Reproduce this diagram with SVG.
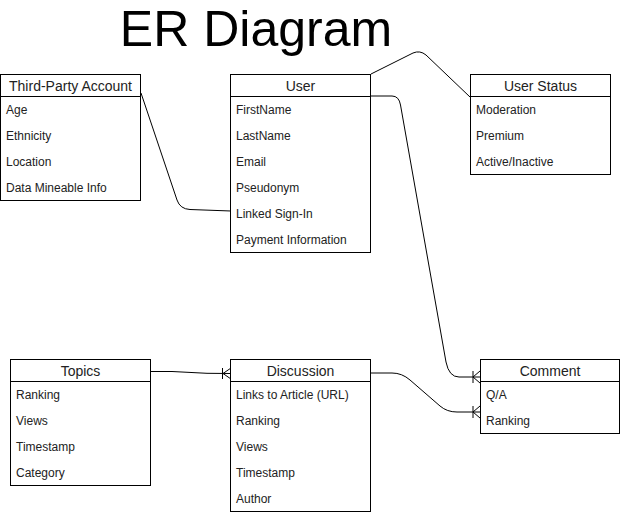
<svg xmlns="http://www.w3.org/2000/svg" width="621" height="514" viewBox="0 0 621 514">
<style>
.box{fill:#fff;stroke:#000;stroke-width:1}
.hl{stroke:#000;stroke-width:1}
.h{font-family:"Liberation Sans",Arial,sans-serif;font-size:14px;fill:#222;text-anchor:middle}
.a{font-family:"Liberation Sans",Arial,sans-serif;font-size:12px;fill:#222}
.t{font-family:"Liberation Sans",Arial,sans-serif;font-size:50px;fill:#000;text-anchor:middle}
.c{fill:none;stroke:#000;stroke-width:1}
</style>
<rect width="621" height="514" fill="#fff"/>
<text class="t" x="256" y="46">ER Diagram</text>

<g id="connectors">
  <path class="c" d="M141,93 L177,200 Q180,209 190,209.5 L231,211"/>
  <path class="c" d="M371,74 L413,53 Q420,50 426,55 L470,97"/>
  <path class="c" d="M371,96 L392,96 Q399,96 400.5,105 L446,362 Q449,377 459,377 L480,377"/>
  <path class="c" d="M480,371 L473,377 L480,383 M473,371 V383" />
  <path class="c" d="M371,373 L392,373 Q402,373 410,380 L440,406 Q447,412 457,412 L480,412"/>
  <path class="c" d="M480,406 L473,412 L480,418 M473,406 V418"/>
  <path class="c" d="M151,371.5 L172,371.5 L207,373.3 L231,373.5"/>
  <path class="c" d="M231,368 L223,373.5 L231,379 M222.5,368 V379"/>
</g>

<g id="third-party-account">
  <rect class="box" x="0.5" y="74.5" width="140" height="126"/>
  <line class="hl" x1="0.5" y1="96.5" x2="140.5" y2="96.5"/>
  <text class="h" x="70.5" y="91">Third-Party Account</text>
  <text class="a" x="6" y="114">Age</text>
  <text class="a" x="6" y="140">Ethnicity</text>
  <text class="a" x="6" y="166">Location</text>
  <text class="a" x="6" y="192">Data Mineable Info</text>
</g>

<g id="user">
  <rect class="box" x="230.5" y="74.5" width="140" height="178"/>
  <line class="hl" x1="230.5" y1="96.5" x2="370.5" y2="96.5"/>
  <text class="h" x="300.5" y="91">User</text>
  <text class="a" x="236" y="114">FirstName</text>
  <text class="a" x="236" y="140">LastName</text>
  <text class="a" x="236" y="166">Email</text>
  <text class="a" x="236" y="192">Pseudonym</text>
  <text class="a" x="236" y="218">Linked Sign-In</text>
  <text class="a" x="236" y="244">Payment Information</text>
</g>

<g id="user-status">
  <rect class="box" x="470.5" y="74.5" width="140" height="100"/>
  <line class="hl" x1="470.5" y1="96.5" x2="610.5" y2="96.5"/>
  <text class="h" x="540.5" y="91">User Status</text>
  <text class="a" x="476" y="114">Moderation</text>
  <text class="a" x="476" y="140">Premium</text>
  <text class="a" x="476" y="166">Active/Inactive</text>
</g>

<g id="topics">
  <rect class="box" x="10.5" y="359.5" width="140" height="126"/>
  <line class="hl" x1="10.5" y1="381.5" x2="150.5" y2="381.5"/>
  <text class="h" x="80.5" y="376">Topics</text>
  <text class="a" x="16" y="399">Ranking</text>
  <text class="a" x="16" y="425">Views</text>
  <text class="a" x="16" y="451">Timestamp</text>
  <text class="a" x="16" y="477">Category</text>
</g>

<g id="discussion">
  <rect class="box" x="230.5" y="359.5" width="140" height="152"/>
  <line class="hl" x1="230.5" y1="381.5" x2="370.5" y2="381.5"/>
  <text class="h" x="300.5" y="376">Discussion</text>
  <text class="a" x="236" y="399">Links to Article (URL)</text>
  <text class="a" x="236" y="425">Ranking</text>
  <text class="a" x="236" y="451">Views</text>
  <text class="a" x="236" y="477">Timestamp</text>
  <text class="a" x="236" y="503">Author</text>
</g>

<g id="comment">
  <rect class="box" x="480.5" y="359.5" width="139" height="74"/>
  <line class="hl" x1="480.5" y1="381.5" x2="619.5" y2="381.5"/>
  <text class="h" x="550" y="376">Comment</text>
  <text class="a" x="486" y="399">Q/A</text>
  <text class="a" x="486" y="425">Ranking</text>
</g>
</svg>
